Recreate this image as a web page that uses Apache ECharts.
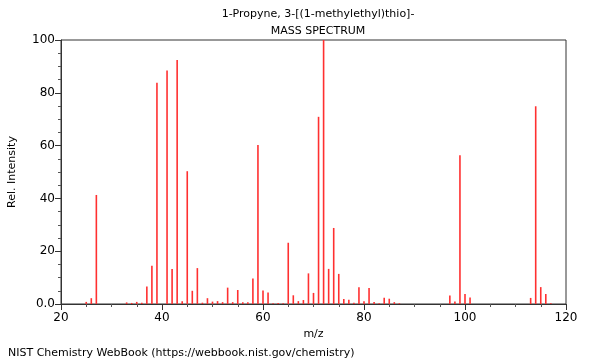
<!DOCTYPE html>
<html>
<head>
<meta charset="utf-8">
<script src="https://cdn.jsdelivr.net/npm/echarts@6/dist/echarts.min.js"></script>
<style>html,body{margin:0;padding:0;background:#fff}#c{width:600px;height:360px}</style>
</head>
<body>
<div id="c"></div>
<script>
const titleLines = ['1-Propyne, 3-[(1-methylethyl)thio]-', 'MASS SPECTRUM'];
const footer = 'NIST Chemistry WebBook (https://webbook.nist.gov/chemistry)';
const xTicks = [20, 40, 60, 80, 100, 120];
const yTicks = [0, 20, 40, 60, 80, 100];
const mz = [25,26,27,33,34,35,36,37,38,39,41,42,43,44,45,46,47,48,49,50,51,52,53,54,55,56,57,58,59,60,61,62,63,64,65,66,67,68,69,70,71,72,73,74,75,76,77,78,79,80,81,82,83,84,85,86,87,97,98,99,100,101,113,114,115,116,117];
const intensity = [0.8,2.2,41.3,0.6,0.4,0.8,0.5,6.6,14.5,83.8,88.4,13.3,92.4,1.0,50.3,5.0,13.6,0.5,2.2,0.9,1.1,0.7,6.2,0.7,5.3,0.7,0.7,9.7,60.2,5.1,4.4,0.3,0.4,0.3,23.2,3.3,1.1,1.5,11.6,4.2,70.9,100,13.3,28.8,11.4,1.9,1.6,0.5,6.3,1.0,6.1,0.8,0.3,2.4,2.0,0.7,0.3,3.2,0.9,56.3,3.8,2.5,2.3,74.9,6.4,3.8,0.3];

const font = 'DejaVu Sans';
const chart = echarts.init(document.getElementById('c'), null, {renderer: 'canvas'});
chart.setOption({
  animation: false,
  backgroundColor: '#fff',
  title: [
    {text: titleLines[0], left: 313, top: 4, textAlign: 'center', textStyle: {fontFamily: font, fontSize: 11, fontWeight: 'normal', color: '#000'}},
    {text: titleLines[1], left: 313, top: 21, textAlign: 'center', textStyle: {fontFamily: font, fontSize: 11, fontWeight: 'normal', color: '#000'}},
    {text: footer, left: 3, top: 343, textStyle: {fontFamily: font, fontSize: 11, fontWeight: 'normal', color: '#000'}}
  ],
  grid: {left: 61, right: 34, top: 40, bottom: 56, outerBoundsMode: 'none', containLabel: false, show: true, borderColor: '#333', borderWidth: 1, backgroundColor: 'transparent'},
  xAxis: {
    type: 'value', min: xTicks[0], max: xTicks[xTicks.length-1], interval: 20,
    name: 'm/z', nameLocation: 'middle', nameGap: 24,
    nameTextStyle: {fontFamily: font, fontSize: 11, color: '#000'},
    axisLine: {lineStyle: {color: '#333'}},
    axisTick: {length: 6, lineStyle: {color: '#333'}},
    minorTick: {show: true, splitNumber: 4, length: 3, lineStyle: {color: '#555'}},
    splitLine: {show: false},
    axisLabel: {fontFamily: font, fontSize: 12, color: '#000', margin: 8}
  },
  yAxis: {
    type: 'value', min: yTicks[0], max: yTicks[yTicks.length-1], interval: 20,
    name: 'Rel. Intensity', nameLocation: 'middle', nameGap: 43,
    nameTextStyle: {fontFamily: font, fontSize: 11, color: '#000'},
    axisLine: {show: true, lineStyle: {color: '#333'}},
    axisTick: {show: true, length: 6, lineStyle: {color: '#333'}},
    minorTick: {show: true, splitNumber: 4, length: 3, lineStyle: {color: '#555'}},
    splitLine: {show: false},
    axisLabel: {fontFamily: font, fontSize: 12, color: '#000', margin: 6, formatter: v => v === 0 ? '0.0' : String(v)}
  },
  series: [{
    type: 'bar',
    barWidth: 1.6,
    itemStyle: {color: '#ff3030'},
    data: mz.map((m, i) => [m, intensity[i]])
  }]
});
</script>
</body>
</html>
